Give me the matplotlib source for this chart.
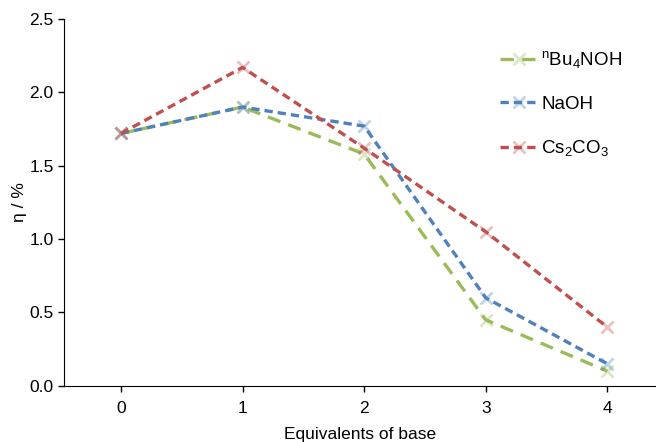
import matplotlib
matplotlib.use("Agg")
from matplotlib import pyplot as plt
from matplotlib.colors import to_rgba

plt.rcParams['font.family'] = ['Liberation Sans', 'DejaVu Sans']

equivalents = [0, 1, 2, 3, 4]
bu4noh = [1.72, 1.90, 1.58, 0.45, 0.10]
naoh = [1.72, 1.90, 1.77, 0.60, 0.15]
cs2co3 = [1.72, 2.17, 1.62, 1.05, 0.40]

labels = [r"$\mathregular{^{n}Bu_{4}NOH}$", "NaOH", r"$\mathregular{Cs_{2}CO_{3}}$"]
colors = ["#9BBB59", "#4F81BD", "#C0504D"]
series = [bu4noh, naoh, cs2co3]
dashes = [(4, 2.5), (2.5, 1.5), (2.5, 1.5)]

fig = plt.figure(figsize=(6.56, 4.42), dpi=100)
ax = fig.add_axes([0.0976, 0.127, 0.9024, 0.83])

for vals, lab, col, d in zip(series, labels, colors, dashes):
    ax.plot(equivalents, vals, color=col, lw=2.4, dashes=d, label=lab,
            marker="x", ms=9, mew=2, mec=to_rgba(col, 0.35))

ax.set_xlim(-0.468, 4.40)
ax.set_ylim(0, 2.5)
ax.set_xticks(equivalents)
ax.set_yticks([0, 0.5, 1.0, 1.5, 2.0, 2.5])
ax.set_yticklabels(["0.0", "0.5", "1.0", "1.5", "2.0", "2.5"])
ax.tick_params(labelsize=12.5, length=4, width=1)
ax.tick_params(axis='x', pad=7)
ax.spines['top'].set_visible(False)
ax.spines['right'].set_visible(False)
ax.set_xlabel("Equivalents of base", fontsize=12.5)
ax.set_ylabel("η / %", fontsize=12.5)
ax.xaxis.set_label_coords(0.5, -0.111)
ax.yaxis.set_label_coords(-0.062, 0.5)

leg = ax.legend(loc="upper left", bbox_to_anchor=(0.708, 0.963), frameon=False,
                fontsize=13.5, labelspacing=1.35, handlelength=2.0,
                handletextpad=0.2)

fig.savefig("out.png", dpi=100)
